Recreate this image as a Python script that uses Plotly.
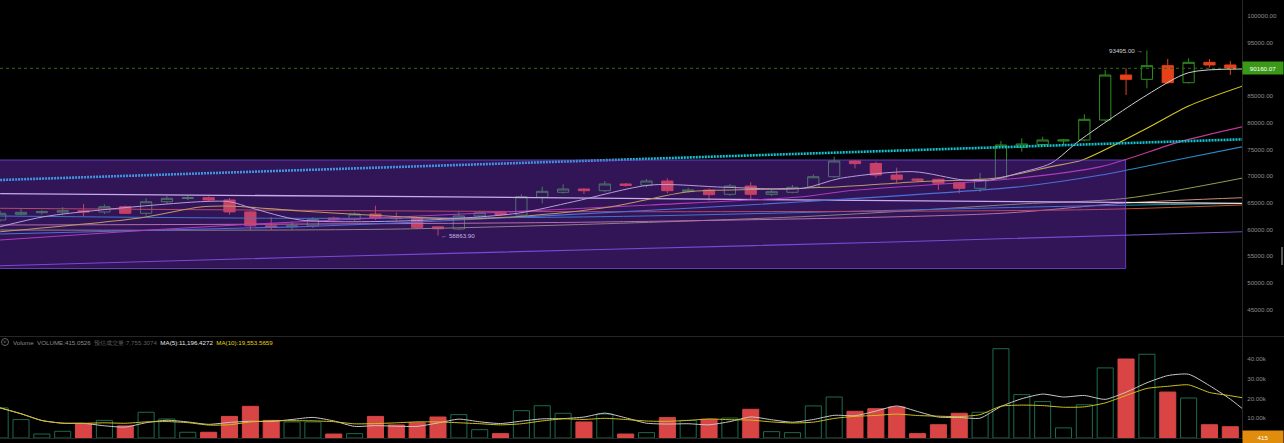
import plotly.graph_objects as go
import pandas as pd

# ---------------- data ----------------
candle_index = list(range(61))
opens = [61784, 62850, 63150, 63250, 63520, 63280, 64270, 63040, 65200, 65800,
         65950, 65530, 63300, 60700, 60500, 60700, 62150, 61900, 62900, 62150,
         62100, 60500, 60100, 62550, 63150, 62700, 66030, 66965, 67580, 67265,
         68520, 68270, 69080, 67100, 67400, 66590, 68140, 66590, 66965, 67900,
         69880, 72820, 72350, 70200, 69450, 69400, 68760, 67710, 69600, 75380,
         75900, 76560, 76750, 80490, 88900, 88100, 90650, 87470, 91280, 90780,
         90100]
highs = [63500, 63900, 63600, 64200, 64800, 64700, 64500, 65850, 66300, 66300,
         66200, 65900, 63500, 62340, 61500, 62300, 62400, 63200, 64460, 63200,
         62300, 60600, 63350, 63500, 63400, 66590, 68010, 68460, 67700, 69080,
         68700, 69450, 69580, 67800, 67700, 68500, 68840, 67400, 68330, 70330,
         73625, 73000, 72690, 71580, 69600, 69500, 68900, 70600, 76560, 77070,
         77360, 76900, 81560, 89840, 90160, 93495, 91900, 92030, 91900, 91530,
         90300]
lows = [61500, 62650, 62800, 62700, 62500, 62900, 62900, 62600, 64800, 65500,
        65300, 62800, 59900, 59900, 60000, 60300, 61700, 61600, 61800, 61700,
        60100, 58863.9, 59900, 62300, 62500, 62400, 64900, 66700, 66640, 67000,
        68000, 67900, 66780, 66900, 65400, 66300, 65525, 66300, 66800, 67700,
        69700, 71455, 69700, 68760, 69000, 67400, 66780, 67000, 69400, 74560,
        75700, 75810, 76500, 80200, 85170, 86420, 87200, 87300, 90270, 88900,
        90000]
closes = [63037, 63220, 63330, 63520, 63280, 64270, 63040, 65200, 65840, 65950,
          65530, 63300, 60700, 60470, 60700, 61900, 61900, 62900, 62150, 62050,
          60400, 60150, 62550, 63150, 62780, 66140, 67150, 67580, 67265, 68520,
          68270, 69080, 67265, 67400, 66520, 68140, 66590, 67080, 67900, 69880,
          72820, 72330, 70200, 69400, 69210, 68650, 67710, 69400, 75810, 76000,
          76750, 76750, 80620, 88900, 88100, 90650, 87470, 91280, 90780, 90100,
          90160.07]
volumes = [15200, 9300, 2000, 3400, 7200, 8900, 6100, 13000, 9600, 2900,
           2900, 10900, 16000, 8900, 8100, 8100, 2000, 2200, 10900, 6600,
           7700, 10600, 11800, 4200, 2200, 13800, 16300, 12500, 8100, 12100,
           2000, 2700, 10300, 8900, 9400, 10100, 14500, 3200, 2700, 16200,
           20700, 13500, 14800, 15700, 2200, 6700, 12500, 13000, 45100, 21900,
           18400, 5100, 16800, 35400, 39900, 42300, 23200, 20200, 6700, 5700,
           415.0526]

# price moving-average / indicator lines (candle index, price)
ma_fast_x = [0, 2.1, 4.8, 9.6, 11.0, 12.1, 14.4, 19.7, 24.8, 27.5, 31.2, 34.8,
             38.5, 40.3, 43.8, 46.2, 47.5, 48.8, 50.4, 51.8, 55.0, 57.0, 59.6]
ma_fast_y = [60530, 62400, 63654, 65207, 65207, 63972, 61784, 61653, 63037, 65207,
             68331, 67901, 67714, 69584, 70818, 69266, 69266, 70519, 72390, 76749,
             85166, 89338, 90030]
ma_yellow_x = [0, 6.7, 9.6, 11.0, 14.4, 19.2, 22.1, 24.7, 29.3, 33.0, 36.6, 40.3,
               44.0, 47.7, 50.4, 51.9, 55.0, 57.0, 59.6]
ma_yellow_y = [59595, 62159, 64217, 64403, 63468, 62402, 61971, 62402, 64273, 67079,
               67528, 68014, 68950, 69584, 71767, 73007, 78937, 83108, 86850]
ma_magenta_x = [0, 7.2, 14.4, 20.1, 31.2, 38.5, 40.8, 48.8, 52.8, 56.6, 59.6]
ma_magenta_y = [58043, 59914, 61467, 62531, 64589, 66141, 67300, 69584, 71767, 76443, 79237]
ma_blue_x = [0, 14.4, 20.1, 33.0, 38.5, 48.9, 52.8, 56.4, 59.6]
ma_blue_y = [59165, 60530, 61408, 63974, 65209, 68015, 70201, 73007, 75495]
ma_white_x = [0, 20.1, 48.9, 59.6]
ma_white_y = [66703, 66142, 65207, 64908]
ma_orange_x = [0, 28.8, 52.0, 59.6]
ma_orange_y = [63975, 63336, 63700, 64600]
ma_teal_x = [0, 14.4, 28.8, 51.8, 59.6]
ma_teal_y = [62532, 62102, 62402, 64403, 64870]
ma_salmon_x = [0, 28.8, 48.0, 54.0, 59.6]
ma_salmon_y = [60848, 61408, 63037, 64966, 65956]
ma_olive_x = [0, 19.2, 38.4, 48.9, 54.0, 59.6]
ma_olive_y = [59913, 60100, 62402, 64777, 65844, 69640]
ma_purple_x = [0, 14.4, 28.8, 43.2, 59.6]
ma_purple_y = [53234, 54805, 56264, 57723, 59593]
trend_x = [0, 59.6]
trend_y = [69266, 76880]

# drawn rectangle (time range / price range)
box_start, box_end = -1, 53.98
box_low, box_high = 52711, 73007

last_price = 90160.07
high_mark = (55, 93495.00)
low_mark = (21, 58863.90)

# 90000 label is hidden behind the last-price tag in the reference
price_ticks = [45000, 50000, 55000, 60000, 65000, 70000, 75000, 80000, 85000, 95000, 100000]
vol_ticks = [10000, 20000, 30000, 40000]
vol_tick_text = ["10.00k", "20.00k", "30.00k", "40.00k"]

# ---------------- styling ----------------
UP = "#2f8f1f"
DOWN = "#e5421a"
VOL_UP = "#1d6b4a"
VOL_DOWN = "#d94545"
FONT = "Liberation Sans, Arial, sans-serif"
TICK_COLOR = "#8d8d8d"

vol_ma5 = pd.Series(volumes).rolling(5, min_periods=1).mean()
vol_ma10 = pd.Series(volumes).rolling(10, min_periods=1).mean()

fig = go.Figure()

line_defs = [
    (ma_purple_x, ma_purple_y, "#7050c0", 1.1),
    (ma_olive_x, ma_olive_y, "#8ea34a", 1.0),
    (ma_salmon_x, ma_salmon_y, "#c98a80", 1.0),
    (ma_teal_x, ma_teal_y, "#1a96b4", 1.0),
    (ma_orange_x, ma_orange_y, "#c8501e", 1.0),
    (ma_white_x, ma_white_y, "#e6e6e6", 1.3),
    (ma_blue_x, ma_blue_y, "#2b8ac6", 1.1),
    (ma_magenta_x, ma_magenta_y, "#c2399a", 1.1),
    (ma_yellow_x, ma_yellow_y, "#d6c81e", 1.1),
    (ma_fast_x, ma_fast_y, "#cfcfcf", 1.0),
]
for xs, ys, col, w in line_defs:
    fig.add_trace(go.Scatter(x=xs, y=ys, mode="lines",
                             line=dict(color=col, width=w, shape="spline", smoothing=0.8),
                             hoverinfo="skip", showlegend=False, xaxis="x", yaxis="y"))

fig.add_trace(go.Scatter(x=trend_x, y=trend_y, mode="lines",
                         line=dict(color="#14c4d0", width=2.6, dash="2px,1px"),
                         hoverinfo="skip", showlegend=False, xaxis="x", yaxis="y"))

fig.add_trace(go.Candlestick(
    x=candle_index, open=opens, high=highs, low=lows, close=closes,
    increasing=dict(line=dict(color=UP, width=1), fillcolor="rgba(0,0,0,0)"),
    decreasing=dict(line=dict(color=DOWN, width=1), fillcolor=DOWN),
    whiskerwidth=0, showlegend=False, xaxis="x", yaxis="y"))

is_up = [c >= o for o, c in zip(opens, closes)]
fig.add_trace(go.Bar(
    x=candle_index, y=volumes, width=0.77,
    marker=dict(color=["rgba(0,0,0,0)" if u else VOL_DOWN for u in is_up],
                line=dict(color=[VOL_UP if u else VOL_DOWN for u in is_up], width=1)),
    showlegend=False, xaxis="x", yaxis="y2"))
fig.add_trace(go.Scatter(x=candle_index, y=vol_ma5, mode="lines",
                         line=dict(color="#c8c8c8", width=1, shape="spline", smoothing=0.6),
                         showlegend=False, xaxis="x", yaxis="y2"))
fig.add_trace(go.Scatter(x=candle_index, y=vol_ma10, mode="lines",
                         line=dict(color="#cfc21a", width=1, shape="spline", smoothing=0.6),
                         showlegend=False, xaxis="x", yaxis="y2"))

PLOT_H = 438
price_top_px, price_bot_px = 0, 336
vol_top_px = 337

fig.update_layout(
    width=1284, height=443,
    margin=dict(l=0, r=42, t=0, b=5),
    paper_bgcolor="#000000", plot_bgcolor="#000000",
    boxgap=0.23,
    font=dict(family=FONT, size=6.2, color=TICK_COLOR),
    xaxis=dict(range=[-0.0072, 59.561], showgrid=False, zeroline=False,
               showticklabels=False, rangeslider=dict(visible=False),
               showline=True, linecolor="#262626", linewidth=1, anchor="y2"),
    yaxis=dict(domain=[1 - price_bot_px / PLOT_H, 1], range=[40085, 102937],
               side="right", showgrid=False, zeroline=False,
               tickvals=price_ticks, ticktext=[f"{v:.2f}" for v in price_ticks],
               tickfont=dict(size=6.2, color=TICK_COLOR, family=FONT),
               ticks="outside", ticklen=3, tickcolor="#000000",
               showline=True, linecolor="#262626", linewidth=1, anchor="x"),
    yaxis2=dict(domain=[0, (PLOT_H - vol_top_px) / PLOT_H], range=[0, 51010],
                side="right", showgrid=False, zeroline=False,
                tickvals=vol_ticks, ticktext=vol_tick_text,
                tickfont=dict(size=6.2, color=TICK_COLOR, family=FONT),
                ticks="outside", ticklen=3, tickcolor="#000000",
                showline=True, linecolor="#262626", linewidth=1, anchor="x"),
)

shapes = [
    # drawn rectangle, translucent, over the candles
    dict(type="rect", xref="x", yref="y", x0=box_start, x1=box_end, y0=box_low, y1=box_high,
         fillcolor="rgba(140,60,250,0.35)", line=dict(color="rgba(120,70,220,0.8)", width=1),
         layer="above"),
    # last price dashed line
    dict(type="line", xref="paper", yref="y", x0=0, x1=1, y0=last_price, y1=last_price,
         line=dict(color="#2f6a22", width=1, dash="3px,3px"), layer="above"),
    # pane separator
    dict(type="line", xref="paper", yref="paper", x0=0, x1=1284 / 1242,
         y0=(PLOT_H - 336.5) / PLOT_H, y1=(PLOT_H - 336.5) / PLOT_H,
         line=dict(color="#262626", width=1)),
    # collapse icon
    dict(type="circle", xref="paper", yref="paper", x0=1.5 / 1242, x1=8.5 / 1242,
         y0=(PLOT_H - 345.5) / PLOT_H, y1=(PLOT_H - 338.5) / PLOT_H,
         line=dict(color="#7a7a7a", width=0.8)),
    # scroll handle
    dict(type="rect", xref="paper", yref="paper", x0=1281 / 1242, x1=1283 / 1242,
         y0=(PLOT_H - 265) / PLOT_H, y1=(PLOT_H - 247) / PLOT_H,
         fillcolor="#555555", line=dict(width=0)),
]
fig.update_layout(shapes=shapes)

legend_text = ('<span style="color:#8a8a8a">Volume</span>  '
               '<span style="color:#8a8a8a">VOLUME:415.0526</span>  '
               '<span style="color:#5f5f5f">预估成交量:7,755.3074</span>  '
               '<span style="color:#e6e6e6">MA(5):11,196.4272</span>  '
               '<span style="color:#e3d314">MA(10):19,553.5659</span>')

annotations = [
    dict(xref="paper", yref="paper", x=0, xshift=11, y=(PLOT_H - 342) / PLOT_H,
         xanchor="left", yanchor="middle", showarrow=False, text=legend_text,
         font=dict(size=6.2, family=FONT)),
    dict(xref="paper", yref="paper", x=5 / 1242, y=(PLOT_H - 342.3) / PLOT_H,
         xanchor="center", yanchor="middle", showarrow=False, text="˅",
         font=dict(size=6, color="#8a8a8a")),
    dict(xref="paper", yref="y", x=1, y=last_price, xanchor="left", yanchor="middle",
         showarrow=False, text=f"{last_price:.2f}", bgcolor="#3a9a17",
         font=dict(size=6.2, color="#ffffff", family=FONT), width=38, height=10, borderpad=1),
    dict(xref="paper", yref="y2", x=1, y=volumes[-1], xanchor="left", yanchor="middle",
         showarrow=False, text="415", bgcolor="#e08c0c",
         font=dict(size=6.2, color="#ffffff", family=FONT), width=38, height=10, borderpad=1),
    dict(xref="x", yref="y", x=high_mark[0], y=high_mark[1], xanchor="right", yanchor="middle",
         xshift=-2, showarrow=False, text=f"{high_mark[1]:.2f} →",
         font=dict(size=6.2, color="#d0d0d0", family=FONT)),
    dict(xref="x", yref="y", x=low_mark[0], y=low_mark[1], xanchor="left", yanchor="middle",
         xshift=1, showarrow=False, text=f"← {low_mark[1]:.2f}",
         font=dict(size=6.2, color="#c4b6e0", family=FONT)),
]
fig.update_layout(annotations=annotations)

fig.write_html("out.html", config={"displayModeBar": False},
               post_script="document.body.style.margin='0';document.body.style.padding='0';"
                           "document.body.style.overflow='hidden';")
